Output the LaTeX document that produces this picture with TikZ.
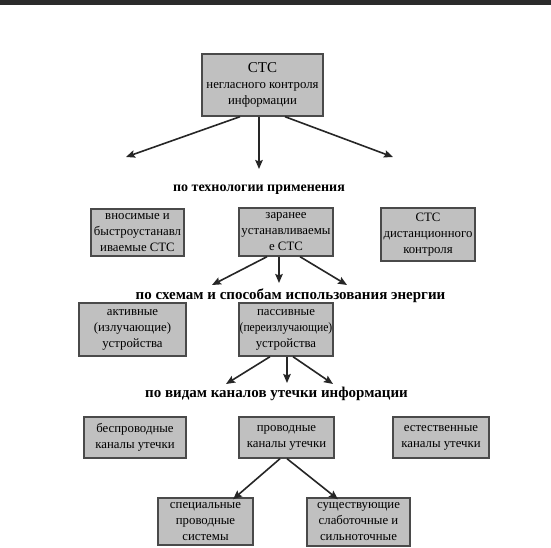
\documentclass[tikz,border=0pt]{standalone}
\usepackage{fontspec}
\setmainfont{Liberation Serif}
\usetikzlibrary{arrows.meta}
\definecolor{boxfill}{HTML}{C0C0C0}
\definecolor{boxline}{HTML}{4A4A4A}
\definecolor{topbar}{HTML}{2B2B2B}
\tikzset{arr/.style = {-{Stealth[length=9pt,width=7.5pt,inset=1.5pt]}, line width=1.6pt, draw=black!85}}

\begin{document}
\begin{tikzpicture}[x=1pt,y=-1pt,
    box/.style={draw=boxline, fill=boxfill, line width=1.4pt, inner sep=0pt,
        align=center, font={\rmfamily\fontsize{12.8}{16}\selectfont}},
    level/.style={font={\rmfamily\fontsize{15}{17}\selectfont\bfseries}, inner sep=0pt, anchor=base},
    ]
    % Frame
    \useasboundingbox (0,0) rectangle (551,548);
    \fill[white] (0,0) rectangle (551,548);
    \fill[topbar] (0,0) rectangle (551,5);

    % Root
    \node[box, minimum width=121pt, minimum height=62pt] (root) at (262.5,85)
        {{\fontsize{15}{17}\selectfont СТС}\\негласного контроля\\информации};

    % Level names
    \node[level, font={\rmfamily\fontsize{14}{16}\selectfont\bfseries}] (tech) at (259,191.5) {по технологии применения};
    \node[level] (energy) at (290.5,299.5) {по схемам и способам использования энергии};
    \node[level] (chan) at (276.5,397.5) {по видам каналов утечки информации};

    % By technology
    \node[box, minimum width=93pt, minimum height=47pt] (carry) at (137.5,232.5)
        {вносимые и\\быстроустанавл\\иваемые СТС};
    \node[box, minimum width=94pt, minimum height=48pt] (fixed) at (286,232)
        {заранее\\устанавливаемы\\е СТС};
    \node[box, minimum width=94pt, minimum height=53pt] (remote) at (428,234.5)
        {СТС\\дистанционного\\контроля};

    % By energy
    \node[box, minimum width=107pt, minimum height=53pt] (active) at (132.5,329.5)
        {активные\\(излучающие)\\устройства};
    \node[box, minimum width=94pt, minimum height=53pt] (passive) at (286,329.5)
        {пассивные\\\scalebox{0.91}[1]{(переизлучающие)}\\устройства};

    % By channels
    \node[box, minimum width=102pt, minimum height=41pt] (wireless) at (135,437.5)
        {беспроводные\\каналы утечки};
    \node[box, minimum width=95pt, minimum height=41pt] (wired) at (286.5,437.5)
        {проводные\\каналы утечки};
    \node[box, minimum width=96pt, minimum height=41pt] (natural) at (441,437.5)
        {естественные\\каналы утечки};

    % Wired kinds
    \node[box, minimum width=95pt, minimum height=47pt] (special) at (205.5,521.5)
        {специальные\\проводные\\системы};
    \node[box, minimum width=103pt, minimum height=48pt] (existing) at (358.5,522)
        {существующие\\слаботочные и\\сильноточные};

    % Free arrow ends
    \coordinate (r1) at (126,157);
    \coordinate (r2) at (259,169);
    \coordinate (r3) at (393,157);
    \coordinate (f1) at (212,285);
    \coordinate (f2) at (279,283);
    \coordinate (f3) at (347,285);
    \coordinate (p1) at (226,384);
    \coordinate (p2) at (287,383);
    \coordinate (p3) at (333,384);

    % Arrows
    \draw[arr] ([xshift=-22.5pt]root.south) -- (r1);
    \draw[arr] ([xshift=-3.5pt]root.south) -- (r2);
    \draw[arr] ([xshift=22.5pt]root.south) -- (r3);

    \draw[arr] ([xshift=-19pt]fixed.south) -- (f1);
    \draw[arr] ([xshift=-7pt]fixed.south) -- (f2);
    \draw[arr] ([xshift=14pt]fixed.south) -- (f3);

    \draw[arr] ([xshift=-16pt]passive.south) -- (p1);
    \draw[arr] ([xshift=1pt]passive.south) -- (p2);
    \draw[arr] ([xshift=7pt]passive.south) -- (p3);

    \draw[arr] ([xshift=-6.5pt]wired.south) -- ([xshift=27.5pt,yshift=-2pt]special.north);
    \draw[arr] ([xshift=0.5pt]wired.south) -- ([xshift=-20.5pt,yshift=-2pt]existing.north);

\end{tikzpicture}
\end{document}
